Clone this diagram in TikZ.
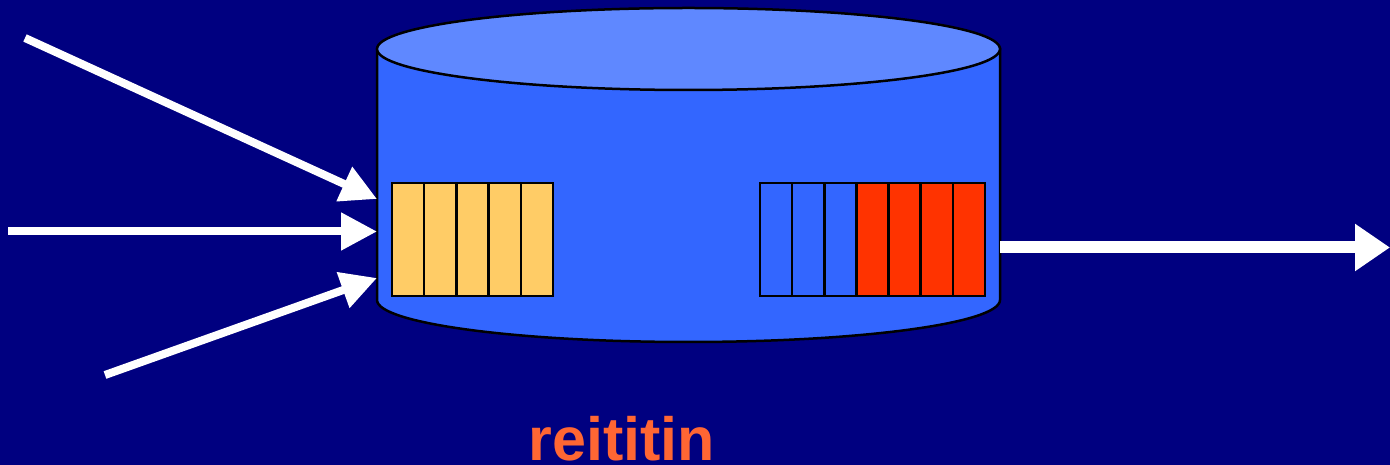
\documentclass[tikz,border=0pt]{standalone}
\usepackage{fontspec}
\setmainfont{Liberation Sans}
\usetikzlibrary{arrows.meta}
\definecolor{bgnavy}{HTML}{000080}
\definecolor{cylbody}{HTML}{3366FF}
\definecolor{cyltop}{HTML}{5F88FF}
\definecolor{cellorange}{HTML}{FFCC66}
\definecolor{cellred}{HTML}{FF3300}
\definecolor{labelorange}{HTML}{FF6633}
\tikzset{
  cellbox/.style={draw=black,line width=2.5pt,minimum width=32.2pt,minimum height=113pt,inner sep=0pt,outer sep=0pt},
  flow/.style={draw=white,line width=8pt,-{Triangle[length=36pt,width=36pt]}},
  bigflow/.style={draw=white,line width=12pt,-{Triangle[length=35pt,width=45pt]}},
}
\begin{document}
\begin{tikzpicture}[x=1pt,y=1pt]
\fill[bgnavy] (0,0) rectangle (1390,465);
\useasboundingbox (0,0) rectangle (1390,465);
% cylinder
\filldraw[fill=cylbody,draw=black,line width=2.5pt] (377,416) -- (377,165) arc[start angle=180,end angle=360,x radius=311.5,y radius=42] -- (1000,416) -- cycle;
\filldraw[fill=cyltop,draw=black,line width=2.5pt] (688.5,416) ellipse[x radius=311.5,y radius=41];
% input buffer
\foreach \i in {0,...,4}{
  \node[cellbox,fill=cellorange,anchor=south west] (in\i) at ({392+32.2*\i},169) {};
}
% output buffer
\foreach \i in {0,...,6}{
  \pgfmathsetmacro{\c}{\i<3 ? "cylbody" : "cellred"}
  \node[cellbox,fill=\c,anchor=south west] (out\i) at ({760+32.14*\i},169) {};
}
% connector endpoints
\coordinate (s1) at (25,427);
\coordinate (s2) at (8,233.5);
\coordinate (s3) at (105,90);
\coordinate (e1) at (377,266);
\coordinate (e2) at (377,233.5);
\coordinate (e3) at (377,187);
\coordinate (os) at (1000,217.5);
\coordinate (oe) at (1390,217.5);
\draw[flow] (s1) -- (e1);
\draw[flow] (s2) -- (e2);
\draw[flow] (s3) -- (e3);
\draw[bigflow] (os) -- (oe);
\node[anchor=base,text=labelorange,font=\bfseries\fontsize{61}{61}\selectfont,inner sep=0pt] (lbl) at (622,4) {reititin};
\end{tikzpicture}
\end{document}
